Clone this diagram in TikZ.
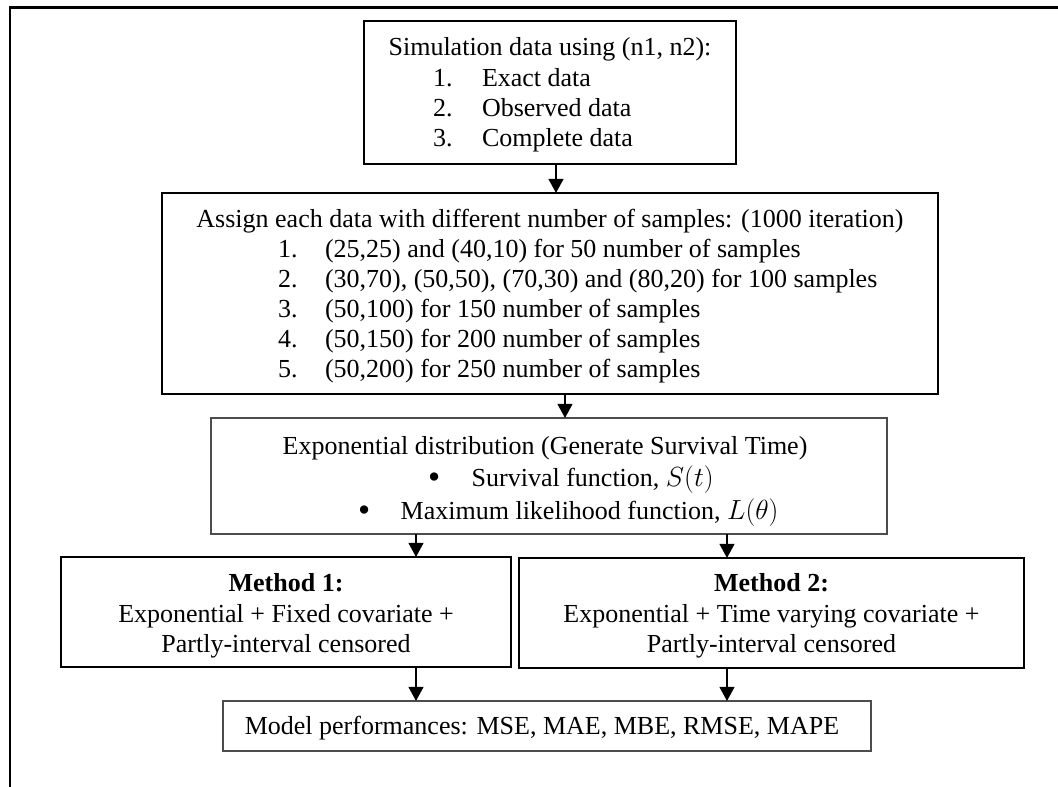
\documentclass[tikz,border=0pt]{standalone}
\usepackage{fontspec}
\setmainfont{Liberation Serif}
\usetikzlibrary{arrows.meta}
\begin{document}
\begin{tikzpicture}[x=0.75pt,y=-0.75pt,
  box/.style={draw=black,line width=0.8pt,inner sep=0pt,outer sep=0pt},
  greybox/.style={box,draw=black!70},
  txt/.style={inner sep=0pt,outer sep=0pt,font=\fontsize{19.5pt}{22pt}\selectfont},
  bul/.style={inner sep=0pt,outer sep=0pt,font=\fontsize{26pt}{26pt}\selectfont},
  arr/.style={line width=1.5pt,-{Triangle[width=11pt,length=10.5pt]}},
  frameline/.style={line width=1.6pt}]
\useasboundingbox (0,0) rectangle (1058,787);
% outer frame
\draw[frameline] (10,787) -- (10,7.5) -- (1058,7.5);

% boxes
\node[box,minimum width=279pt,minimum height=107.25pt] (b1) at (550,92.5) {};
\node[box,minimum width=582pt,minimum height=150.75pt] (b2) at (550,293.5) {};
\node[greybox,minimum width=507pt,minimum height=87pt] (b3) at (549,476) {};
\node[box,minimum width=337.5pt,minimum height=82.5pt] (m1) at (286,612) {};
\node[box,minimum width=378.75pt,minimum height=82.5pt] (m2) at (771.5,613) {};
\node[greybox,minimum width=486pt,minimum height=37.5pt] (mp) at (547,726) {};

% box 1 text
\node[txt,anchor=base] (b1h) at (550,56) {Simulation data using (n1, n2):};
\node[txt,anchor=base west] (b1n1) at (433,87) {1.};
\node[txt,anchor=base west] (b1t1) at (482,87) {Exact data};
\node[txt,anchor=base west] (b1n2) at (433,117) {2.};
\node[txt,anchor=base west] (b1t2) at (482,117) {Observed data};
\node[txt,anchor=base west] (b1n3) at (433,147) {3.};
\node[txt,anchor=base west] (b1t3) at (482,147) {Complete data};

% box 2 text
\node[txt,anchor=base] (b2h) at (550,228) {Assign each data with different number of samples: (1000 iteration)};
\node[txt,anchor=base west] (b2n1) at (278,258) {1.};
\node[txt,anchor=base west] (b2t1) at (325,258) {(25,25) and (40,10) for 50 number of samples};
\node[txt,anchor=base west] (b2n2) at (278,288) {2.};
\node[txt,anchor=base west] (b2t2) at (325,288) {(30,70), (50,50), (70,30) and (80,20) for 100 samples};
\node[txt,anchor=base west] (b2n3) at (278,318) {3.};
\node[txt,anchor=base west] (b2t3) at (325,318) {(50,100) for 150 number of samples};
\node[txt,anchor=base west] (b2n4) at (278,348) {4.};
\node[txt,anchor=base west] (b2t4) at (325,348) {(50,150) for 200 number of samples};
\node[txt,anchor=base west] (b2n5) at (278,378) {5.};
\node[txt,anchor=base west] (b2t5) at (325,378) {(50,200) for 250 number of samples};

% box 3 text
\node[txt,anchor=base] (b3h) at (545,455) {Exponential distribution (Generate Survival Time)};
\node[bul,anchor=base west] (b3n1) at (428,489) {•};
\node[txt,anchor=base west] (b3t1) at (471.7,487) {Survival function, $S(t)$};
\node[bul,anchor=base west] (b3n2) at (358,522) {•};
\node[txt,anchor=base west] (b3t2) at (400.7,520) {Maximum likelihood function, $L(\theta)$};

% method 1 text
\node[txt,anchor=base,font=\fontsize{19.5pt}{22pt}\selectfont\bfseries] (m1h) at (286,592) {Method 1:};
\node[txt,anchor=base] (m1a) at (286,623) {Exponential + Fixed covariate +};
\node[txt,anchor=base] (m1b) at (286,653) {Partly-interval censored};

% method 2 text
\node[txt,anchor=base,font=\fontsize{19.5pt}{22pt}\selectfont\bfseries] (m2h) at (771.5,592) {Method 2:};
\node[txt,anchor=base] (m2a) at (771.5,623) {Exponential + Time varying covariate +};
\node[txt,anchor=base] (m2b) at (771.5,653) {Partly-interval censored};

% model performance text
\node[txt,anchor=base] (mpt) at (542,735) {Model performances: MSE, MAE, MBE, RMSE, MAPE};

% arrow x positions
\coordinate (xa) at (556,0);
\coordinate (xb) at (565,0);
\coordinate (xc) at (416,0);
\coordinate (xd) at (727,0);

\draw[arr] (b1.south -| xa) -- (b2.north -| xa);
\draw[arr] (b2.south -| xb) -- (b3.north -| xb);
\draw[arr] (b3.south -| xc) -- (m1.north -| xc);
\draw[arr] (b3.south -| xd) -- (m2.north -| xd);
\draw[arr] (m1.south -| xc) -- (mp.north -| xc);
\draw[arr] (m2.south -| xd) -- (mp.north -| xd);
\end{tikzpicture}
\end{document}
